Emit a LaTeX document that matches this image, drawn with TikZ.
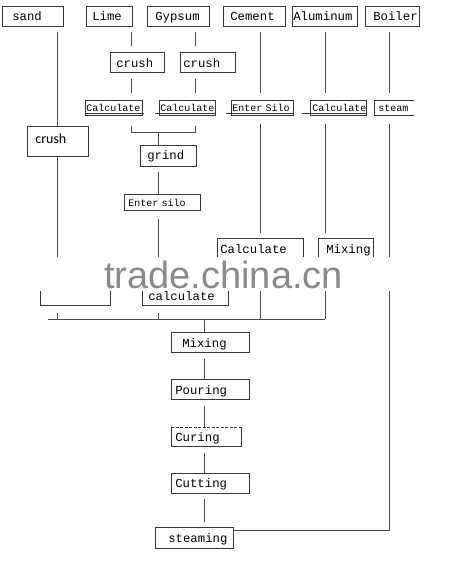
\documentclass[tikz,border=0pt]{standalone}
\usepackage{fontspec}
\usetikzlibrary{calc}
\newfontfamily\monofam{Liberation Mono}[HyphenChar=None,WordSpace={1,0,0}]
\newfontfamily\sansfam{Carlito}[HyphenChar=None]
\newfontfamily\wmfam{Liberation Sans}
\newcommand\fbig{\monofam\fontsize{12.3}{14}\selectfont}
\newcommand\fsmall{\monofam\fontsize{10}{12}\selectfont}
\newcommand\fsans{\sansfam\fontsize{14}{16}\selectfont}
\newcommand\fwm{\wmfam\fontsize{38}{40}\selectfont}
\begin{document}
\begin{tikzpicture}[x=1pt,y=-1pt,
  bx/.style n args={4}{draw=black!78, line width=0.7pt, anchor=north west,
    inner ysep=0pt, inner xsep=#1, text width=#2, text height=#3, text depth=#4,
    align=left, font=\fbig},
  boxline/.style={draw=black!78, line width=0.7pt},
  wire/.style={draw=black!70, line width=0.7pt}]
\fill[white] (0,0) rectangle (452,575);
\useasboundingbox (0,0) rectangle (452,575);
% top row
\node[bx={10pt}{41pt}{14pt}{6pt}] (sand) at (2,6) {sand};
\node[bx={6pt}{34pt}{14pt}{6pt}] (lime) at (86,6) {Lime};
\node[bx={8pt}{46pt}{14pt}{6pt}] (gypsum) at (147,6) {Gypsum};
\node[bx={7pt}{48pt}{14pt}{6pt}] (cement) at (223,6) {Cement};
\node[bx={1pt}{63pt}{14pt}{6pt}] (aluminum) at (292,6) {Aluminum};
\node[bx={8pt}{38pt}{14pt}{6pt}] (boiler) at (365,6) {Boiler};
% crush row
\node[bx={6pt}{42pt}{15pt}{5pt}] (crush1) at (110,52) {crush};
\node[bx={3pt}{49pt}{15pt}{5pt}] (crush2) at (180,52) {crush};
% calculate row
\node[bx={1pt}{55pt}{11pt}{4pt}, font=\fsmall] (calc1) at (85,100) {Calculate};
\node[bx={1pt}{54pt}{11pt}{4pt}, font=\fsmall] (calc2) at (159,100) {Calculate};
\node[bx={1pt}{60pt}{11pt}{4pt}, font=\fsmall] (enter) at (231,100) {Enter Silo};
\node[bx={2pt}{52pt}{11pt}{4pt}, font=\fsmall] (calc3) at (310,100) {Calculate};
\node[bx={4pt}{31pt}{11pt}{4pt}, font=\fsmall, draw=none] (steam) at (374,100) {steam};
\draw[boxline] (steam.north east) -- (steam.north west) -- (steam.south west) -- (steam.south east);
\draw[boxline] ([yshift=2pt]calc1.south west) -- ([xshift=1pt,yshift=2pt]calc1.south east);
\draw[boxline] ([xshift=-4pt,yshift=2pt]calc2.south west) -- ([yshift=2pt]calc2.south east);
\draw[boxline] ([xshift=-5pt,yshift=2pt]enter.south west) -- ([yshift=2pt]enter.south east);
\draw[boxline] ([xshift=-8pt,yshift=2pt]calc3.south west) -- ([yshift=2pt]calc3.south east);
% middle
\node[bx={8pt}{45pt}{17pt}{13pt}, font=\fsans] (sandcrush) at (27,126) {crush};
\node[bx={7pt}{42pt}{14pt}{7pt}] (grind) at (140,145) {grind};
\node[bx={4pt}{68pt}{12pt}{4pt}, font=\fsmall] (ensilo) at (124,194) {Enter silo};
\node[bx={3pt}{80pt}{15pt}{13pt}] (cemcalc) at (217,238) {Calculate};
\node[bx={8pt}{39pt}{15pt}{13pt}] (almix) at (318,238) {Mixing};
\node[bx={1pt}{68pt}{11pt}{5pt}] (sandbox) at (40,289) {};
\node[bx={6pt}{74pt}{11pt}{5pt}] (lowcalc) at (142,289) {calculate};
% lower chain
\node[bx={11pt}{56pt}{15pt}{5pt}] (mix) at (171,332) {Mixing};
\node[bx={4pt}{70pt}{15pt}{5pt}] (pour) at (171,379) {Pouring};
\node[bx={4pt}{62pt}{14pt}{5pt}, draw=none] (cure) at (171,427) {Curing};
\draw[boxline] (cure.north west) -- (cure.south west) -- (cure.south east) -- (cure.north east);
\draw[boxline, dashed, dash pattern=on 3pt off 1.5pt] (cure.north west) -- (cure.north east);
\node[bx={4pt}{70pt}{14pt}{6pt}] (cut) at (171,473) {Cutting};
\node[bx={13pt}{52pt}{15pt}{6pt}] (steaming) at (155,527) {steaming};
% column coordinates
\coordinate (cS) at (57,0);
\coordinate (cL) at (131,0);
\coordinate (cG) at (195,0);
\coordinate (cC) at (260,0);
\coordinate (cA) at (325,0);
\coordinate (cB) at (389,0);
\coordinate (cV) at (204.5,0);
\coordinate (brk) at (158,132);
\coordinate (busL) at (48,319);
\coordinate (busR) at (325,319);
\coordinate (bend) at (389,530);
% sand column
\draw[wire, shorten <=5pt] (sand.south -| cS) -- (sandcrush.north -| cS);
\draw[wire] (sandcrush.south -| cS) -- (sandbox.north -| cS);
\draw[wire, shorten <=7pt] (sandbox.south -| cS) -- (cS |- busL);
% lime / gypsum
\draw[wire, shorten <=5pt, shorten >=6pt] (lime.south -| cL) -- (crush1.north -| cL);
\draw[wire, shorten <=6pt, shorten >=7pt] (crush1.south -| cL) -- (calc1.north -| cL);
\draw[wire, shorten <=5pt, shorten >=6pt] (gypsum.south -| cG) -- (crush2.north -| cG);
\draw[wire, shorten <=6pt, shorten >=7pt] (crush2.south -| cG) -- (calc2.north -| cG);
\draw[wire] ($(calc1.south -| cL)+(0,10)$) -- (cL |- brk) -- (cG |- brk) -- ($(calc2.south -| cG)+(0,10)$);
\draw[wire] (brk) -- (grind.north -| brk);
\draw[wire, shorten <=5pt] (grind.south -| brk) -- (ensilo.north -| brk);
\draw[wire, shorten <=8pt] (ensilo.south -| brk) -- (lowcalc.north -| brk);
\draw[wire, shorten <=7pt] (lowcalc.south -| brk) -- (brk |- busL);
% cement
\draw[wire, shorten <=5pt, shorten >=7pt] (cement.south -| cC) -- (enter.north -| cC);
\draw[wire, shorten <=8pt, shorten >=5pt] (enter.south -| cC) -- (cemcalc.north -| cC);
\draw[wire] (cemcalc.south -| cC) -- (cC |- busL);
% aluminum
\draw[wire, shorten <=5pt, shorten >=7pt] (aluminum.south -| cA) -- (calc3.north -| cA);
\draw[wire, shorten <=8pt, shorten >=5pt] (calc3.south -| cA) -- (almix.north -| cA);
\draw[wire] (almix.south -| cA) -- (busR);
% boiler
\draw[wire, shorten <=5pt, shorten >=7pt] (boiler.south -| cB) -- (steam.north -| cB);
\draw[wire, shorten <=8pt] (steam.south -| cB) -- (bend) -- (bend -| steaming.east);
% bus and chain
\draw[wire] (busL) -- (busR);
\draw[wire] (cV |- busL) -- (mix.north -| cV);
\draw[wire, shorten <=6pt] (mix.south -| cV) -- (pour.north -| cV);
\draw[wire, shorten <=6pt] (pour.south -| cV) -- (cure.north -| cV);
\draw[wire, shorten <=6pt] (cure.south -| cV) -- (cut.north -| cV);
\draw[wire, shorten <=5pt, shorten >=5pt] (cut.south -| cV) -- (steaming.north -| cV);
% watermark
\fill[white] (25,257) rectangle (402,291);
\node[anchor=base west, inner sep=0pt, font=\fwm, text=black!46] (wm) at (104,288) {trade.china.cn};
\end{tikzpicture}
\end{document}
